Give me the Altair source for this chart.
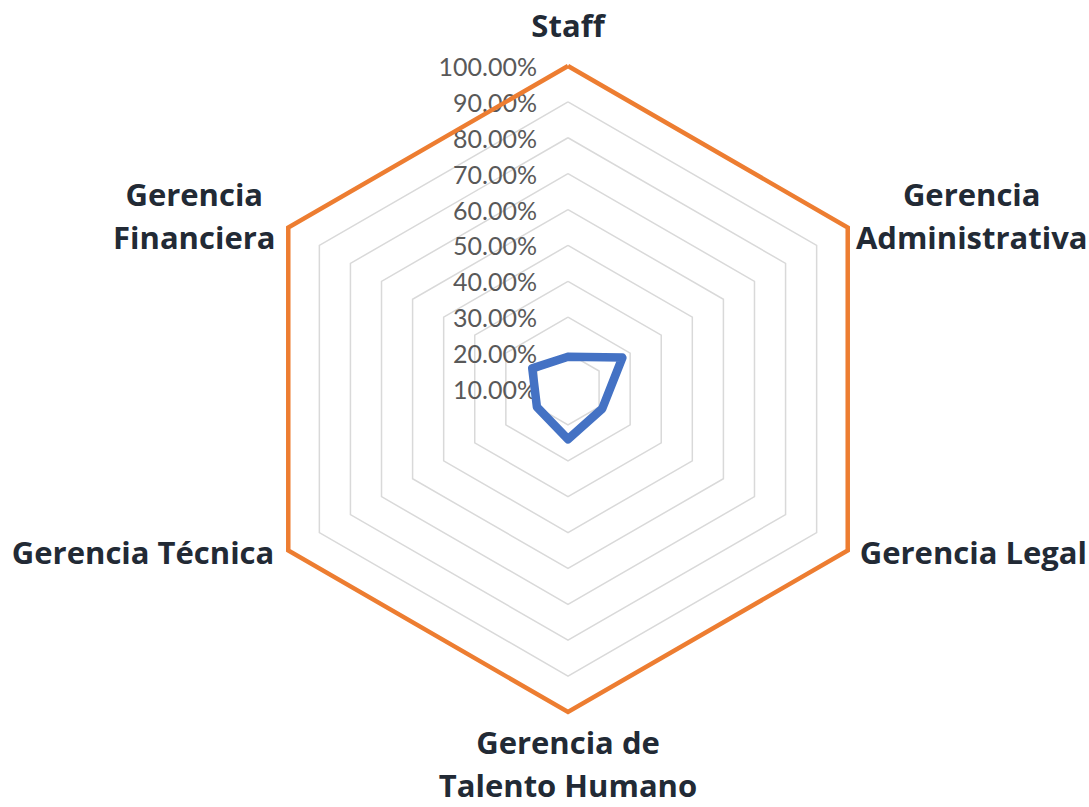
import altair as alt
import pandas as pd

# ---- data ----
categories = [
    "Staff",
    "Gerencia Administrativa",
    "Gerencia Legal",
    "Gerencia de Talento Humano",
    "Gerencia Técnica",
    "Gerencia Financiera",
]
category_labels = [
    "Staff",
    "Gerencia\nAdministrativa",
    "Gerencia Legal",
    "Gerencia de\nTalento Humano",
    "Gerencia Técnica",
    "Gerencia\nFinanciera",
]
serie_azul = [0.19, 0.275, 0.21, 0.24, 0.20, 0.215]
serie_naranja = [1.0, 1.0, 1.0, 1.0, 1.0, 1.0]
tick_values = [0.1, 0.2, 0.3, 0.4, 0.5, 0.6, 0.7, 0.8, 0.9, 1.0]
tick_labels = ["10.00%", "20.00%", "30.00%", "40.00%", "50.00%",
               "60.00%", "70.00%", "80.00%", "90.00%", "100.00%"]

R_MIN, R_MAX = 0.1, 1.0
N = len(categories)

# ---- tables ----
rows = []
for name, vals in [("Serie naranja", serie_naranja), ("Serie azul", serie_azul)]:
    for i in range(N + 1):
        rows.append({"serie": name, "idx": i % N, "ord": i, "value": vals[i % N]})
lines_df = pd.DataFrame(rows)

grid_rows = []
for t in tick_values[1:]:
    for i in range(N + 1):
        grid_rows.append({"ring": t, "idx": i % N, "ord": i, "value": t})
grid_df = pd.DataFrame(grid_rows)

ticks_df = pd.DataFrame({"idx": [0] * len(tick_values), "value": tick_values, "label": tick_labels})

cat_df = pd.DataFrame({"idx": list(range(N)), "value": [R_MAX] * N,
                       "cat": categories, "label": category_labels})

# ---- polar -> cartesian through calculate transforms ----
def polar(ch):
    return ch.transform_calculate(
        ang=f"PI/2 - datum.idx * 2 * PI / {N}",
        r=f"(datum.value - {R_MIN}) / ({R_MAX} - {R_MIN})",
    ).transform_calculate(
        px="datum.r * cos(datum.ang)",
        py="datum.r * sin(datum.ang)",
    )

xs = alt.Scale(domain=[-1.7585, 1.6130], nice=False, zero=False)
ys = alt.Scale(domain=[-1.2941, 1.2043], nice=False, zero=False)
X = alt.X("px:Q", scale=xs, axis=None)
Y = alt.Y("py:Q", scale=ys, axis=None)

grid = polar(alt.Chart(grid_df)).mark_line(
    color="#d9d9d9", strokeWidth=1.5
).encode(x=X, y=Y, detail="ring:N", order="ord:Q")

tick_text = polar(alt.Chart(ticks_df)).mark_text(
    align="right", baseline="middle", dx=-31, dy=2,
    font="Lato", fontSize=25, color="#595959"
).encode(x=X, y=Y, text="label:N")

orange = polar(alt.Chart(lines_df).transform_filter("datum.serie == 'Serie naranja'")).mark_line(
    color="#ED7D31", strokeWidth=4.5, strokeJoin="miter"
).encode(x=X, y=Y, order="ord:Q")

blue = polar(alt.Chart(lines_df).transform_filter("datum.serie == 'Serie azul'")).mark_line(
    color="#4472C4", strokeWidth=8.5, strokeJoin="round", strokeCap="round"
).encode(x=X, y=Y, order="ord:Q")

label_style = [
    # idx, align, dx, dy
    (0, "center", 0, -38),
    (1, "center", 124, -30),
    (2, "left", 12, 4),
    (3, "center", 0, 33),
    (4, "right", -14, 4),
    (5, "center", -94, -30),
]
cat_layers = []
for idx, al, dx, dy in label_style:
    cat_layers.append(
        polar(alt.Chart(cat_df).transform_filter(f"datum.idx == {idx}")).mark_text(
            align=al, baseline="middle", dx=dx, dy=dy, lineBreak="\n", lineHeight=43,
            font="Open Sans", fontSize=31, fontWeight="bold", color="#222A35"
        ).encode(x=X, y=Y, text="label:N")
    )

chart = alt.layer(grid, tick_text, orange, blue, *cat_layers).properties(
    width=1089, height=807, padding=0,
    autosize=alt.AutoSizeParams(type="none"),
    background="white",
).configure_view(stroke=None)

chart.save("out.html", embed_options={"renderer": "svg", "actions": False})
